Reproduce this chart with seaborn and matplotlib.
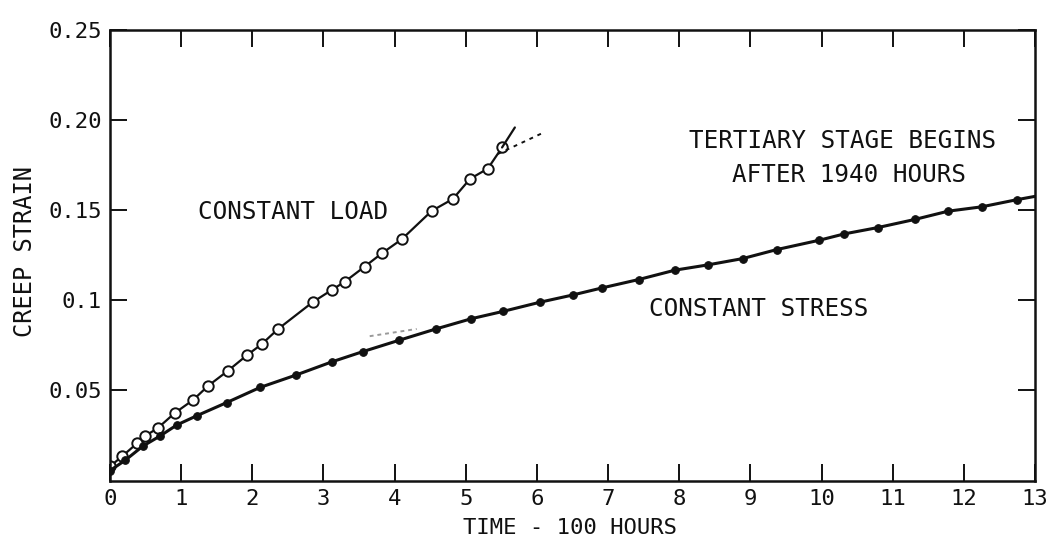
import matplotlib
matplotlib.use("Agg")
import matplotlib.pyplot as plt
import seaborn as sns
import pandas as pd

# Creep strain vs time (time in units of 100 hours)
load_time = [0.0, 0.17, 0.38, 0.49, 0.67, 0.91, 1.17, 1.38, 1.66, 1.92, 2.13, 2.36,
             2.85, 3.12, 3.30, 3.58, 3.82, 4.10, 4.52, 4.82, 5.06, 5.31, 5.51]
load_strain = [0.0078, 0.0134, 0.0206, 0.0246, 0.0290, 0.0374, 0.0447, 0.0525, 0.0609,
               0.0693, 0.0755, 0.0839, 0.0989, 0.1057, 0.1102, 0.1186, 0.1259, 0.1337,
               0.1494, 0.1561, 0.1672, 0.1729, 0.1846]
# continuation of the constant-load curve beyond the last reading
load_tail_time = [5.51, 5.69]
load_tail_strain = [0.1846, 0.1957]
# linear extrapolation of the constant-load curve
load_extrap_time = [5.45, 6.10]
load_extrap_strain = [0.1810, 0.1930]

stress_time = [0.0, 0.21, 0.46, 0.70, 0.94, 1.22, 1.64, 2.11, 2.61, 3.12, 3.55, 4.06,
               4.58, 5.08, 5.52, 6.04, 6.50, 6.92, 7.43, 7.94, 8.40, 8.89, 9.37, 9.97,
               10.32, 10.79, 11.31, 11.78, 12.25, 12.75]
stress_strain = [0.0055, 0.0111, 0.0190, 0.0246, 0.0308, 0.0359, 0.0432, 0.0516, 0.0584,
                 0.0658, 0.0714, 0.0777, 0.0840, 0.0897, 0.0937, 0.0988, 0.1028, 0.1068,
                 0.1114, 0.1166, 0.1195, 0.1230, 0.1280, 0.1332, 0.1367, 0.1402, 0.1447,
                 0.1493, 0.1517, 0.1557]
stress_tail_time = [12.75, 13.0]
stress_tail_strain = [0.1557, 0.1575]
# faint tangent line on the constant-stress curve
stress_tangent_time = [3.65, 4.31]
stress_tangent_strain = [0.0800, 0.0840]

x_ticks = list(range(0, 14))
x_tick_labels = [str(v) for v in x_ticks]
y_ticks = [0.05, 0.10, 0.15, 0.20, 0.25]
y_tick_labels = ["0.05", "0.1", "0.15", "0.20", "0.25"]

sns.set_style("ticks")
plt.rcParams["font.family"] = ["DejaVu Sans Mono", "DejaVu Sans"]

fig = plt.figure(figsize=(10.48, 5.45), dpi=100)
ax = fig.add_axes([110 / 1048, 1 - 480.5 / 545, 925 / 1048, 451 / 545])

ink = "#111111"

load_df = pd.DataFrame({"t": load_time, "s": load_strain})
stress_df = pd.DataFrame({"t": stress_time, "s": stress_strain})

sns.lineplot(data=load_df, x="t", y="s", ax=ax, color=ink, lw=1.6, sort=False,
             estimator=None, marker="o", markersize=7.5, markerfacecolor="white",
             markeredgecolor=ink, markeredgewidth=1.4)
ax.plot(load_tail_time, load_tail_strain, color=ink, lw=1.6)
ax.plot(load_extrap_time, load_extrap_strain, color=ink, lw=1.4, ls=(0, (2, 2.5)))

sns.lineplot(data=stress_df, x="t", y="s", ax=ax, color=ink, lw=2.2, sort=False,
             estimator=None, marker="o", markersize=5.5, markerfacecolor=ink,
             markeredgecolor=ink)
ax.plot(stress_tail_time, stress_tail_strain, color=ink, lw=2.2)
ax.plot(stress_tangent_time, stress_tangent_strain, color="0.6", lw=1.4, ls=(0, (2, 2)))

ax.set_xlim(0, 13)
ax.set_ylim(0, 0.25)
ax.set_xticks(x_ticks)
ax.set_xticklabels(x_tick_labels)
ax.set_yticks(y_ticks)
ax.set_yticklabels(y_tick_labels)

ax.tick_params(axis="both", direction="in", length=12, width=1.4, color=ink,
               labelsize=16, labelcolor=ink, top=True, right=True)
ax.tick_params(axis="x", pad=6)
ax.tick_params(axis="y", pad=6)
for side in ["left", "right", "top", "bottom"]:
    ax.spines[side].set_visible(True)
    ax.spines[side].set_color(ink)
    ax.spines[side].set_linewidth(1.8)

ax.set_xlabel("TIME - 100 HOURS", fontsize=16, color=ink)
ax.set_ylabel("CREEP STRAIN", fontsize=17, color=ink)
ax.xaxis.set_label_coords(0.497, -0.083)
ax.yaxis.set_label_coords(-0.079, 0.507)

text_kw = dict(fontsize=17.5, color=ink, ha="center", va="center")
ax.text(2.57, 0.1488, "CONSTANT LOAD", **text_kw)
ax.text(10.29, 0.1882, "TERTIARY STAGE BEGINS", **text_kw)
ax.text(10.39, 0.1694, "AFTER 1940 HOURS", **text_kw)
ax.text(9.11, 0.0953, "CONSTANT STRESS", **text_kw)

fig.savefig("out.png", dpi=100, facecolor="white")
